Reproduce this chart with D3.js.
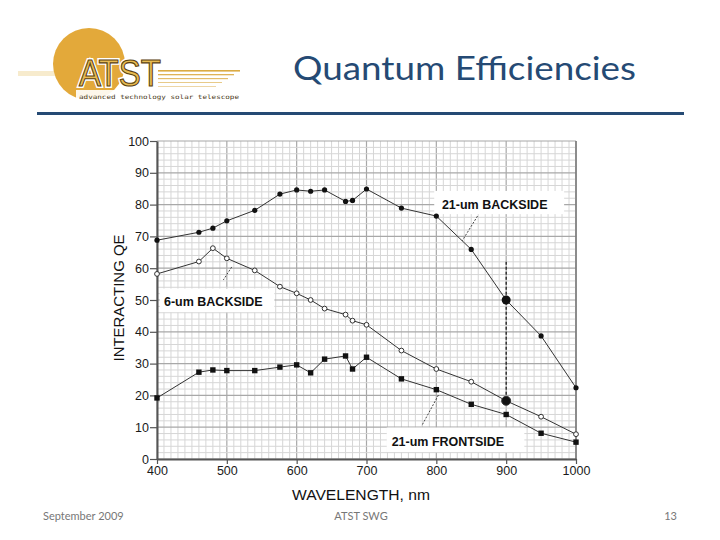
<!DOCTYPE html>
<html>
<head>
<meta charset="utf-8">
<script src="https://cdn.jsdelivr.net/npm/d3@7"></script>
<style>
  html, body { margin: 0; padding: 0; background: #fff; }
  svg { display: block; }
</style>
</head>
<body>
<svg id="chart" width="720" height="540"></svg>
<script>
// ---- data ----
const wavelengths21Back = [400, 460, 480, 500, 540, 576, 600, 620, 640, 670, 680, 700, 750, 800, 850, 900, 950, 1000];
const qe21Back          = [68.8, 71.3, 72.6, 74.9, 78.2, 83.3, 84.6, 84.2, 84.6, 81.0, 81.3, 84.9, 78.9, 76.4, 65.9, 50.0, 38.7, 22.4];

const wavelengths6Back  = [400, 460, 480, 500, 540, 576, 600, 620, 640, 670, 680, 700, 750, 800, 850, 900, 950, 1000];
const qe6Back           = [58.2, 62.1, 66.3, 63.1, 59.3, 54.2, 52.1, 50.0, 47.3, 45.4, 43.5, 42.2, 34.1, 28.3, 24.3, 18.3, 13.3, 7.8];

const wavelengths21Front = [400, 460, 480, 500, 540, 576, 600, 620, 640, 670, 680, 700, 750, 800, 850, 900, 950, 1000];
const qe21Front          = [19.2, 27.3, 28.0, 27.8, 27.8, 28.9, 29.6, 27.1, 31.4, 32.4, 28.3, 32.0, 25.2, 21.8, 17.2, 14.0, 8.1, 5.3];

const xTicks = [400, 500, 600, 700, 800, 900, 1000];
const yTicks = [0, 10, 20, 30, 40, 50, 60, 70, 80, 90, 100];
const highlightWavelength = 900;

const titleText = "Quantum Efficiencies";
const footerLeft = "September 2009";
const footerCenter = "ATST SWG";
const footerRight = "13";

// ---- drawing ----
const svg = d3.select("#chart");

// header logo
const logo = svg.append("g");
logo.append("rect").attr("x", 18).attr("y", 71).attr("width", 45).attr("height", 5)
  .attr("fill", "#f3e2b8").attr("opacity", 0.7);
logo.append("circle").attr("cx", 89).attr("cy", 64).attr("r", 36).attr("fill", "#e3a93a");
[[70, 1.6, 0.95], [74, 1.3, 0.85], [78, 1.2, 0.75], [82, 1.0, 0.6], [86, 0.9, 0.5]].forEach(([yy, w, o], i) => {
  logo.append("rect").attr("x", 158).attr("y", yy).attr("width", 82 - i * 6).attr("height", w)
    .attr("fill", "#d9a63a").attr("opacity", o);
});
logo.append("rect").attr("x", 76).attr("y", 90).attr("width", 166).attr("height", 10).attr("fill", "#fff").attr("opacity", 0.9);
logo.append("text").attr("x", 79).attr("y", 86)
  .attr("font-family", "Liberation Sans Narrow, Liberation Sans, Arial, sans-serif")
  .attr("font-size", 36).attr("textLength", 82).attr("lengthAdjust", "spacingAndGlyphs")
  .attr("fill", "#fff").attr("stroke", "#fff").attr("stroke-width", 4).text("ATST");
logo.append("text").attr("x", 79).attr("y", 86)
  .attr("font-family", "Liberation Sans Narrow, Liberation Sans, Arial, sans-serif")
  .attr("font-size", 36).attr("textLength", 82).attr("lengthAdjust", "spacingAndGlyphs")
  .attr("fill", "#e8bb52").attr("stroke", "#5a3f0e").attr("stroke-width", 1.1).text("ATST");
logo.append("text").attr("x", 79).attr("y", 99)
  .attr("font-family", "DejaVu Sans Mono, monospace").attr("font-size", 6)
  .attr("textLength", 160).attr("lengthAdjust", "spacingAndGlyphs")
  .attr("fill", "#4a3a1a").text("advanced technology solar telescope");

// title
svg.append("text").attr("x", 293).attr("y", 80)
  .attr("font-family", "Lato, 'Open Sans', sans-serif").attr("font-size", 33)
  .attr("textLength", 343).attr("lengthAdjust", "spacingAndGlyphs")
  .attr("fill", "#254a74").text(titleText);
svg.append("rect").attr("x", 37).attr("y", 112).attr("width", 647).attr("height", 3).attr("fill", "#254a74");

// scales
const x = d3.scaleLinear().domain([400, 1000]).range([157, 576]);
const y = d3.scaleLinear().domain([0, 100]).range([459, 141]);

// grid
const grid = svg.append("g");
d3.range(400, 1001, 10).forEach(v => {
  const major = v % 100 === 0;
  grid.append("line").attr("x1", x(v)).attr("x2", x(v)).attr("y1", y(0)).attr("y2", y(100))
    .attr("stroke", major ? "#a8a8a8" : "#d6d6d6").attr("stroke-width", major ? 1.2 : 1);
});
d3.range(0, 101, 2).forEach(v => {
  const major = v % 10 === 0;
  grid.append("line").attr("x1", x(400)).attr("x2", x(1000)).attr("y1", y(v)).attr("y2", y(v))
    .attr("stroke", major ? "#a8a8a8" : "#d6d6d6").attr("stroke-width", major ? 1.2 : 1);
});
grid.append("line").attr("x1", x(1000)).attr("x2", x(1000)).attr("y1", y(0)).attr("y2", y(100))
  .attr("stroke", "#777").attr("stroke-width", 1.5);

// axes
const axisFont = "Liberation Sans, Arial, sans-serif";
const yAxis = svg.append("g").attr("transform", `translate(${x(400)},0)`)
  .call(d3.axisLeft(y).tickValues(yTicks).tickFormat(d3.format("d")).tickSize(7).tickPadding(1).tickSizeOuter(0));
const xAxis = svg.append("g").attr("transform", `translate(0,${y(0)})`)
  .call(d3.axisBottom(x).tickValues(xTicks).tickFormat(d3.format("d")).tickSize(5).tickPadding(2).tickSizeOuter(0));
[yAxis, xAxis].forEach(a => {
  a.select(".domain").attr("stroke", "#555").attr("stroke-width", 2);
  a.selectAll(".tick line").attr("stroke", "#555").attr("stroke-width", 1.2);
  a.selectAll("text").attr("font-family", axisFont).attr("font-size", 12.5)
    .attr("fill", "#1a1a1a").attr("stroke", "none");
});

// axis titles
svg.append("text").attr("x", 361).attr("y", 500).attr("text-anchor", "middle")
  .attr("font-family", axisFont).attr("font-size", 14.5).attr("fill", "#111")
  .attr("textLength", 138).attr("lengthAdjust", "spacingAndGlyphs").text("WAVELENGTH, nm");
svg.append("text").attr("transform", "translate(124,298) rotate(-90)").attr("text-anchor", "middle")
  .attr("font-family", axisFont).attr("font-size", 14.5).attr("fill", "#111")
  .attr("textLength", 127).attr("lengthAdjust", "spacingAndGlyphs").text("INTERACTING QE");

// label boxes and leaders (positions in data units)
function label(txt, bx0, bx1, by0, by1, tx, ty, lx0, ly0, lx1, ly1) {
  svg.append("rect").attr("x", x(bx0)).attr("y", y(by0)).attr("width", x(bx1) - x(bx0))
    .attr("height", y(by1) - y(by0)).attr("fill", "#fff");
  svg.append("text").attr("x", x(tx)).attr("y", y(ty)).attr("font-family", axisFont)
    .attr("font-weight", "bold").attr("font-size", 12.5).attr("fill", "#111").text(txt);
  svg.append("line").attr("x1", x(lx0)).attr("y1", y(ly0)).attr("x2", x(lx1)).attr("y2", y(ly1))
    .attr("stroke", "#333").attr("stroke-width", 0.9).attr("stroke-dasharray", "2,1.5");
}
label("21-um BACKSIDE", 797, 983, 84.3, 77.0, 808, 78.6, 859, 76.4, 837, 68.6);
label("6-um BACKSIDE", 404, 568, 53.6, 46.2, 410, 48.2, 507, 60.4, 495, 56.3);
label("21-um FRONTSIDE", 729, 926, 9.9, 2.2, 736, 4.1, 803, 20.1, 779, 10.4);

// lines and markers
const line = d3.line().x(d => x(d[0])).y(d => y(d[1]));
const s21b = d3.zip(wavelengths21Back, qe21Back);
const s6b = d3.zip(wavelengths6Back, qe6Back);
const s21f = d3.zip(wavelengths21Front, qe21Front);

[s21b, s6b, s21f].forEach(s => {
  svg.append("path").datum(s).attr("d", line).attr("fill", "none")
    .attr("stroke", "#333").attr("stroke-width", 1);
});

// dashed vertical at 900
const i900s = wavelengths6Back.indexOf(highlightWavelength);
svg.append("line").attr("x1", x(highlightWavelength)).attr("x2", x(highlightWavelength))
  .attr("y1", y(62)).attr("y2", y(qe6Back[i900s]))
  .attr("stroke", "#111").attr("stroke-width", 1.2).attr("stroke-dasharray", "3,2");

svg.append("g").selectAll("circle").data(s21b).join("circle")
  .attr("cx", d => x(d[0])).attr("cy", d => y(d[1]))
  .attr("r", d => d[0] === highlightWavelength ? 4.5 : 2.6).attr("fill", "#111");
svg.append("g").selectAll("circle").data(s6b).join("circle")
  .attr("cx", d => x(d[0])).attr("cy", d => y(d[1]))
  .attr("r", d => d[0] === highlightWavelength ? 4.5 : 2.4)
  .attr("fill", d => d[0] === highlightWavelength ? "#111" : "#fff")
  .attr("stroke", "#333").attr("stroke-width", 1);
svg.append("g").selectAll("rect").data(s21f).join("rect")
  .attr("x", d => x(d[0]) - 2.7).attr("y", d => y(d[1]) - 2.7)
  .attr("width", 5.4).attr("height", 5.4).attr("fill", "#111");

// footer
const footFont = "Lato, 'Open Sans', sans-serif";
svg.append("text").attr("x", 43).attr("y", 520).attr("font-family", footFont).attr("font-size", 11)
  .attr("fill", "#777").text(footerLeft);
svg.append("text").attr("x", 361).attr("y", 520).attr("text-anchor", "middle").attr("font-family", footFont)
  .attr("font-size", 11).attr("fill", "#777").text(footerCenter);
svg.append("text").attr("x", 677).attr("y", 520).attr("text-anchor", "end").attr("font-family", footFont)
  .attr("font-size", 11).attr("fill", "#777").text(footerRight);
</script>
</body>
</html>
